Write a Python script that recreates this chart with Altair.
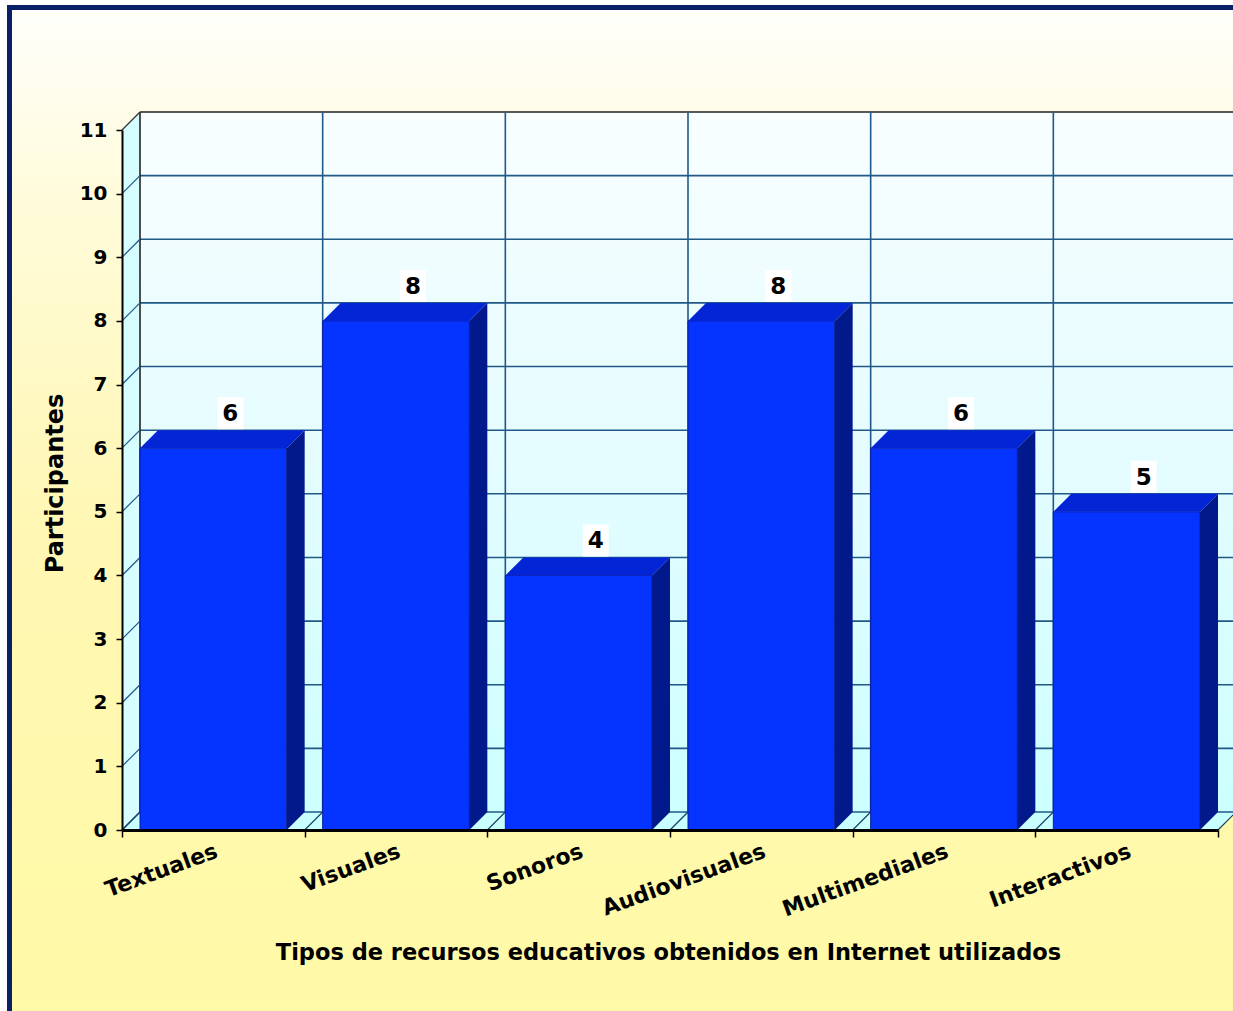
import altair as alt
import pandas as pd

# ---------------- data ----------------
categorias = ["Textuales", "Visuales", "Sonoros", "Audiovisuales", "Multimediales", "Interactivos"]
participantes = [6, 8, 4, 8, 6, 5]
y_ticks = list(range(0, 12))

titulo_x = "Tipos de recursos educativos obtenidos en Internet utilizados"
titulo_y = "Participantes"

# ---------------- layout / style ----------------
N = len(categorias)
YMAX = 11
W, H = 1096, 700
DEPTH = 18                      # px of 3D depth
DXU = DEPTH * N / W             # depth in x data units
DYU = DEPTH * YMAX / H          # depth in y data units

FONT = "DejaVu Sans"
C_FRONT = "#0533ff"
C_TOP = "#0325d6"
C_SIDE = "#02198c"
C_GRID = "#205888"
C_NAVY = "#0a2066"

xs = alt.Scale(domain=[0, N], nice=False, zero=False)
ys = alt.Scale(domain=[0, YMAX], nice=False, zero=False)

df = pd.DataFrame({"cat": categorias, "v": participantes, "i": list(range(N))})
grid_h = pd.DataFrame({"v": y_ticks, "x0": 0, "x1": N})
bounds = list(range(0, N + 1))
grid_v = pd.DataFrame({"c": bounds, "y0": 0, "y1": YMAX})
wall = pd.DataFrame({"x0": [0], "x1": [N], "y0": [0], "y1": [YMAX]})
side_wall = pd.DataFrame({"x": [0, DXU], "y": [0, DYU], "y2": [YMAX, YMAX + DYU]})
floor = pd.DataFrame({"y": [0, DYU], "x": [0, DXU], "x2": [N, N + DXU]})

dummy = pd.DataFrame({"a": [0]})

# ---------------- background frame ----------------
navy = alt.Chart(dummy).mark_rect(color=C_NAVY).encode(
    x=alt.value(-115), x2=alt.value(1140), y=alt.value(-125), y2=alt.value(900)
)
bg_grad = alt.Gradient(
    gradient="linear", x1=0, y1=0, x2=0, y2=1,
    stops=[alt.GradientStop(color="#fffffb", offset=0),
           alt.GradientStop(color="#fffbd8", offset=0.2),
           alt.GradientStop(color="#fff7b4", offset=0.5),
           alt.GradientStop(color="#fffaa6", offset=1)],
)
bg = alt.Chart(dummy).mark_rect(fill=bg_grad).encode(
    x=alt.value(-110), x2=alt.value(1140), y=alt.value(-120), y2=alt.value(900)
)

# ---------------- walls ----------------
wall_grad = alt.Gradient(
    gradient="linear", x1=0, y1=0, x2=0, y2=1,
    stops=[alt.GradientStop(color="#f8feff", offset=0),
           alt.GradientStop(color="#e4fcff", offset=0.5),
           alt.GradientStop(color="#ccffff", offset=1)],
)
back_wall = alt.Chart(wall).mark_rect(
    fill=wall_grad, xOffset=DEPTH, x2Offset=DEPTH, yOffset=-DEPTH, y2Offset=-DEPTH
).encode(
    x=alt.X("x0:Q", scale=xs, title=titulo_x,
            axis=alt.Axis(values=bounds, labels=False, grid=False, tickSize=7, tickWidth=1.5,
                          tickColor="black", domainColor="black", domainWidth=3, zindex=2,
                          titleFont=FONT, titleFontSize=22.5, titleFontWeight="bold", titleColor="black",
                          titleX=W / 2 - 2, titleY=122, titleBaseline="middle")),
    x2="x1:Q",
    y=alt.Y("y0:Q", scale=ys, title=titulo_y,
            axis=alt.Axis(values=y_ticks, grid=False, tickSize=6, tickWidth=1.5, tickColor="black",
                          domainColor="black", domainWidth=2, labelFont=FONT, labelFontSize=20,
                          labelFontWeight="bold", labelColor="black", labelPadding=9, zindex=2,
                          titleFont=FONT, titleFontSize=24, titleFontWeight="bold", titleColor="black",
                          titleX=-67, titleY=H / 2 + 3, titleBaseline="middle", titleAngle=270)),
    y2="y1:Q",
)

left_wall = alt.Chart(side_wall).mark_area(orient="vertical", color="#d6fdff").encode(
    x=alt.X("x:Q", scale=xs, axis=None),
    y=alt.Y("y:Q", scale=ys, axis=None),
    y2="y2:Q",
)
floor_l = alt.Chart(floor).mark_area(orient="horizontal", color="#c8ffff").encode(
    y=alt.Y("y:Q", scale=ys, axis=None),
    x=alt.X("x:Q", scale=xs, axis=None),
    x2="x2:Q",
)

# grid on back wall
grid_back_h = alt.Chart(grid_h).mark_rule(
    strokeWidth=1.6, xOffset=DEPTH, x2Offset=DEPTH, yOffset=-DEPTH
).encode(
    x=alt.X("x0:Q", scale=xs, axis=None), x2="x1:Q", y=alt.Y("v:Q", scale=ys, axis=None),
    color=alt.condition(alt.datum.v == YMAX, alt.value("#222222"), alt.value(C_GRID)),
)
grid_back_v = alt.Chart(grid_v).mark_rule(
    strokeWidth=1.6, xOffset=DEPTH, yOffset=-DEPTH, y2Offset=-DEPTH
).encode(
    x=alt.X("c:Q", scale=xs, axis=None), y=alt.Y("y0:Q", scale=ys, axis=None), y2="y1:Q",
    color=alt.condition(alt.datum.c == 0, alt.value("#222222"), alt.value(C_GRID)),
)
# diagonals on the left wall
grid_side = alt.Chart(grid_h).mark_rule(
    strokeWidth=1.2, x2Offset=DEPTH, y2Offset=-DEPTH
).encode(
    x=alt.X("x0:Q", scale=xs, axis=None), x2="x0:Q",
    y=alt.Y("v:Q", scale=ys, axis=None), y2="v:Q",
    color=alt.condition(alt.datum.v == YMAX, alt.value("#333333"), alt.value(C_GRID)),
)
# diagonals on the floor
grid_floor = alt.Chart(grid_v).mark_rule(
    strokeWidth=1.2, x2Offset=DEPTH, y2Offset=-DEPTH, color="#1d3f66"
).encode(
    x=alt.X("c:Q", scale=xs, axis=None), x2="c:Q",
    y=alt.Y("y0:Q", scale=ys, axis=None), y2="y0:Q",
)

# ---------------- 3D bars ----------------
base = alt.Chart(df).transform_calculate(
    i0="datum.i", i1="datum.i + 1", ic="datum.i + 0.5", y0="0"
)
front = base.mark_rect(
    color=C_FRONT, xOffset=DEPTH, x2Offset=-DEPTH, stroke="#0a1f9a", strokeWidth=1
).encode(
    x=alt.X("i0:Q", scale=xs, axis=None), x2="i1:Q",
    y=alt.Y("y0:Q", scale=ys, axis=None), y2="v:Q",
)

pts = alt.Chart(df).transform_calculate(k="[0, 1]").transform_flatten(["k"]).transform_calculate(
    ty=f"datum.v + datum.k * {DYU}",
    tx=f"datum.i + {DXU} + datum.k * {DXU}",
    tx2=f"datum.i + 1 - {DXU} + datum.k * {DXU}",
    sx=f"datum.i + 1 - {DXU} + datum.k * {DXU}",
    sy=f"datum.k * {DYU}",
    sy2=f"datum.v + datum.k * {DYU}",
)
top = pts.mark_area(orient="horizontal", color=C_TOP).encode(
    y=alt.Y("ty:Q", scale=ys, axis=None),
    x=alt.X("tx:Q", scale=xs, axis=None), x2="tx2:Q",
    detail="cat:N",
)
side = pts.mark_area(orient="vertical", color=C_SIDE).encode(
    x=alt.X("sx:Q", scale=xs, axis=None),
    y=alt.Y("sy:Q", scale=ys, axis=None), y2="sy2:Q",
    detail="cat:N",
)

# ---------------- labels ----------------
box = base.mark_point(
    shape="M-13,-16 H13 V16 H-13 Z", size=4, filled=True, color="white", opacity=1,
    xOffset=17, yOffset=-35, strokeWidth=0
).encode(x=alt.X("ic:Q", scale=xs, axis=None), y=alt.Y("v:Q", scale=ys, axis=None))
vals = base.mark_text(
    font=FONT, fontWeight="bold", fontSize=23, color="black", baseline="middle",
    xOffset=17, yOffset=-34
).encode(x=alt.X("ic:Q", scale=xs, axis=None), y=alt.Y("v:Q", scale=ys, axis=None), text="v:Q")

cat_labels = base.mark_text(
    font=FONT, fontWeight="bold", fontSize=22, color="black", angle=340,
    align="right", baseline="top", xOffset=0, yOffset=11
).encode(x=alt.X("ic:Q", scale=xs, axis=None), y=alt.Y("y0:Q", scale=ys, axis=None), text="cat:N")

chart = alt.layer(
    navy, bg, back_wall, left_wall, floor_l,
    grid_back_h, grid_back_v, grid_side, grid_floor,
    front, top, side, box, vals, cat_labels,
).resolve_axis(
    x="independent", y="independent"
).properties(
    width=W, height=H,
    padding={"left": 122, "top": 130, "right": 15, "bottom": 181},
    autosize=alt.AutoSizeParams(type="none"),
    background="white",
).configure_view(stroke=None)

chart.save("out.html", embed_options={"renderer": "svg", "actions": False})
